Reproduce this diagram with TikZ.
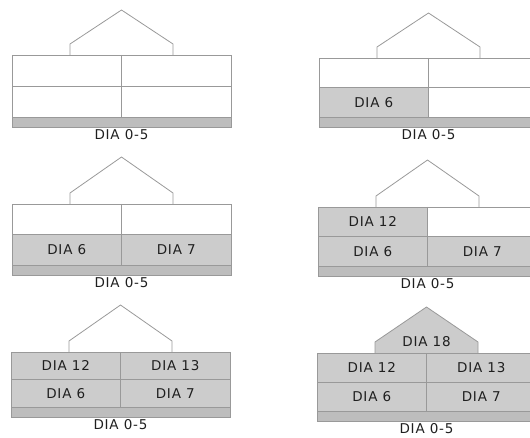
\documentclass[tikz,border=0pt]{standalone}
\usepackage{fontspec}
\usetikzlibrary{calc}
\newfontfamily\diafont[LetterSpace=6]{DejaVu Sans}
\definecolor{wallline}{gray}{0.6}
\definecolor{cellfill}{gray}{0.8}
\definecolor{stripfill}{gray}{0.74}
\definecolor{inktext}{gray}{0.12}

% Coordinates of one house: #1 name, #2 left, #3 top, #4 bottom, #5 roof peak
\newcommand\sethouse[5]{%
  \coordinate (#1-tl) at (#2,#3);
  \coordinate (#1-br) at (#2+219,#4);
  \coordinate (#1-ml) at (#2,{(#3+#4-10)/2});
  \coordinate (#1-mr) at (#2+219,{(#3+#4-10)/2});
  \coordinate (#1-tc) at (#2+109.5,#3);
  \coordinate (#1-bc) at (#2+109.5,#4-10);
  \coordinate (#1-sl) at (#2,#4-10);
  \coordinate (#1-ra) at (#2+58,#3);
  \coordinate (#1-rb) at (#2+58,#3-11);
  \coordinate (#1-pk) at (#2+109.5,#5);
  \coordinate (#1-rc) at (#2+161,#3-11);
  \coordinate (#1-rd) at (#2+161,#3);
  \coordinate (#1-base) at (#2+109.5,#4+8);
}
% Outline, ground strip and roof of one house
\newcommand\drawhouse[1]{%
  \draw[wall, fill=stripfill] (#1-sl) rectangle (#1-br);
  \draw[wall] (#1-tl) rectangle (#1-br);
  \draw[wall] (#1-ml) -- (#1-mr);
  \draw[wall] (#1-tc) -- (#1-bc);
  \draw[wall] (#1-ra) -- (#1-rb) -- (#1-pk) -- (#1-rc) -- (#1-rd);
  \node[tag] (#1-ground) at (#1-base) {DIA 0-5};
}
% Shaded rooms
\newcommand\lowleft[1]{\fill[cellfill] (#1-ml) rectangle (#1-bc);}
\newcommand\lowright[1]{\fill[cellfill] (#1-bc) rectangle (#1-mr);}
\newcommand\upleft[1]{\fill[cellfill] (#1-tl) rectangle (#1-ml -| #1-tc);}
\newcommand\upright[1]{\fill[cellfill] (#1-tc) rectangle (#1-mr);}
\newcommand\roofshade[1]{\fill[cellfill] (#1-ra) -- (#1-rb) -- (#1-pk) -- (#1-rc) -- (#1-rd) -- cycle;}

\begin{document}
\begin{tikzpicture}[x=1pt,y=-1pt,
  wall/.style={draw=wallline, line width=0.8pt},
  tag/.style={font=\diafont\fontsize{13.5}{15}\selectfont, text=inktext, inner sep=0pt}]
\useasboundingbox (0,0) rectangle (530,438);
\clip (0,0) rectangle (530,438);

\sethouse{h1}{12}{55}{127}{10}
\sethouse{h2}{319}{58}{127}{13}
\sethouse{h3}{12}{204}{275}{157}
\sethouse{h4}{318}{207}{276}{160}
\sethouse{h5}{11}{352}{417}{305}
\sethouse{h6}{317}{353}{421}{307}

% shaded rooms
\lowleft{h2}
\lowleft{h3} \lowright{h3}
\lowleft{h4} \lowright{h4} \upleft{h4}
\lowleft{h5} \lowright{h5} \upleft{h5} \upright{h5}
\lowleft{h6} \lowright{h6} \upleft{h6} \upright{h6} \roofshade{h6}

\drawhouse{h1}
\drawhouse{h2}
\drawhouse{h3}
\drawhouse{h4}
\drawhouse{h5}
\drawhouse{h6}

% room labels
\node[tag] (h2-d6) at ($(h2-ml)!0.5!(h2-bc)$) {DIA 6};
\node[tag] (h3-d6) at ($(h3-ml)!0.5!(h3-bc)$) {DIA 6};
\node[tag] (h3-d7) at ($(h3-bc)!0.5!(h3-mr)$) {DIA 7};
\node[tag] (h4-d6) at ($(h4-ml)!0.5!(h4-bc)$) {DIA 6};
\node[tag] (h4-d7) at ($(h4-bc)!0.5!(h4-mr)$) {DIA 7};
\node[tag] (h4-d12) at ($(h4-tl)!0.5!(h4-ml -| h4-tc)$) {DIA 12};
\node[tag] (h5-d6) at ($(h5-ml)!0.5!(h5-bc)$) {DIA 6};
\node[tag] (h5-d7) at ($(h5-bc)!0.5!(h5-mr)$) {DIA 7};
\node[tag] (h5-d12) at ($(h5-tl)!0.5!(h5-ml -| h5-tc)$) {DIA 12};
\node[tag] (h5-d13) at ($(h5-tc)!0.5!(h5-mr)$) {DIA 13};
\node[tag] (h6-d6) at ($(h6-ml)!0.5!(h6-bc)$) {DIA 6};
\node[tag] (h6-d7) at ($(h6-bc)!0.5!(h6-mr)$) {DIA 7};
\node[tag] (h6-d12) at ($(h6-tl)!0.5!(h6-ml -| h6-tc)$) {DIA 12};
\node[tag] (h6-d13) at ($(h6-tc)!0.5!(h6-mr)$) {DIA 13};
\node[tag] (h6-d18) at ($(h6-tc)+(0,-11)$) {DIA 18};
\end{tikzpicture}
\end{document}
